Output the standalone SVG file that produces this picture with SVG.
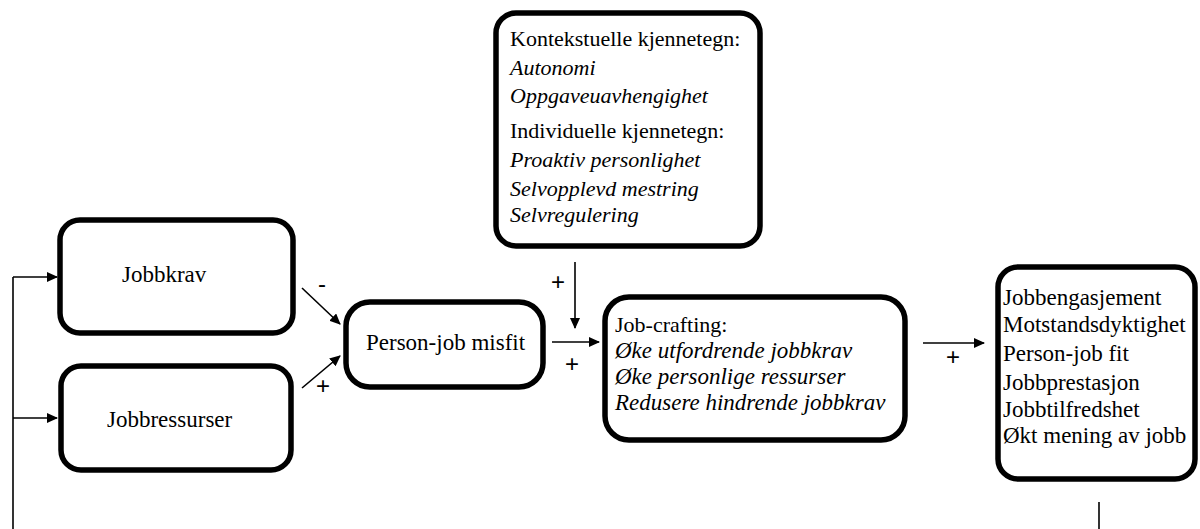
<svg xmlns="http://www.w3.org/2000/svg" width="1200" height="529" viewBox="0 0 1200 529">
  <defs>
    <marker id="arr" markerWidth="11" markerHeight="10" refX="10" refY="5" orient="auto" markerUnits="userSpaceOnUse">
      <path d="M0,0 L11,5 L0,10 Z" fill="#000"/>
    </marker>
  </defs>
  <style>
    .box { fill: #fff; stroke: #000; stroke-width: 5.5; }
    .c { stroke: #000; stroke-width: 1.6; fill: none; }
    .a { marker-end: url(#arr); }
    .t { font-family: "Liberation Serif", "Times New Roman", serif; fill: #000; }
    .i { font-style: italic; }
    .s { font-family: "Liberation Sans", Arial, sans-serif; font-size: 24px; fill: #000; text-anchor: middle; }
  </style>
  <rect width="1200" height="529" fill="#fff"/>

  <g id="connectors">
    <path class="c" d="M13,529 L13,277"/>
    <path class="c a" d="M13,277 L57,277"/>
    <path class="c a" d="M13,418 L57,418"/>
    <path class="c a" d="M302,288 L340,324"/>
    <path class="c a" d="M302,388 L340,356"/>
    <path class="c a" d="M575,262 L575,328"/>
    <path class="c a" d="M552,342 L599,342"/>
    <path class="c a" d="M923,343 L984,343"/>
    <path class="c" d="M1099,502 L1099,529"/>
    <text class="s" x="322" y="292">-</text>
    <text class="s" x="323" y="394">+</text>
    <text class="s" x="558" y="290">+</text>
    <text class="s" x="572" y="372">+</text>
    <text class="s" x="953" y="365">+</text>
  </g>

  <g id="jobbkrav">
    <rect class="box" x="60" y="220" width="233" height="113" rx="20"/>
    <text class="t" x="122" y="282" font-size="23">Jobbkrav</text>
  </g>

  <g id="jobbressurser">
    <rect class="box" x="61" y="366" width="230" height="104" rx="20"/>
    <text class="t" x="107" y="427" font-size="23">Jobbressurser</text>
  </g>

  <g id="misfit">
    <rect class="box" x="346" y="302" width="197" height="85" rx="24"/>
    <text class="t" x="366" y="350" font-size="23">Person-job misfit</text>
  </g>

  <g id="kjennetegn">
    <rect class="box" x="496" y="13" width="264" height="233" rx="20"/>
    <text class="t" x="510" y="46" font-size="22">Kontekstuelle kjennetegn:</text>
    <text class="t i" x="510" y="75" font-size="22">Autonomi</text>
    <text class="t i" x="510" y="103" font-size="22">Oppgaveuavhengighet</text>
    <text class="t" x="510" y="138" font-size="22">Individuelle kjennetegn:</text>
    <text class="t i" x="510" y="167" font-size="22">Proaktiv personlighet</text>
    <text class="t i" x="510" y="196" font-size="22">Selvopplevd mestring</text>
    <text class="t i" x="510" y="222" font-size="22">Selvregulering</text>
  </g>

  <g id="jobcrafting">
    <rect class="box" x="605" y="297" width="300" height="143" rx="24"/>
    <text class="t" x="615" y="332" font-size="22">Job-crafting:</text>
    <text class="t i" x="615" y="358" font-size="23">Øke utfordrende jobbkrav</text>
    <text class="t i" x="615" y="384" font-size="23">Øke personlige ressurser</text>
    <text class="t i" x="615" y="410" font-size="23">Redusere hindrende jobbkrav</text>
  </g>

  <g id="utfall">
    <rect class="box" x="998" y="267" width="197" height="212" rx="20"/>
    <text class="t" x="1003" y="305" font-size="23">Jobbengasjement</text>
    <text class="t" x="1003" y="332" font-size="23">Motstandsdyktighet</text>
    <text class="t" x="1003" y="361" font-size="23">Person-job fit</text>
    <text class="t" x="1003" y="390" font-size="23">Jobbprestasjon</text>
    <text class="t" x="1003" y="417" font-size="23">Jobbtilfredshet</text>
    <text class="t" x="1003" y="443" font-size="23">Økt mening av jobb</text>
  </g>
</svg>
